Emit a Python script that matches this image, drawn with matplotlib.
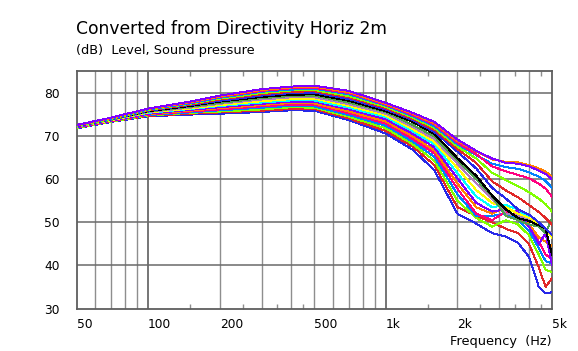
import matplotlib
matplotlib.use("Agg")
import matplotlib.pyplot as plt

# ---------------- data ----------------
freq = [50, 70, 100, 150, 200, 300, 400, 500, 700, 1000, 1300, 1600,
        2000, 2400, 2800, 3200, 3600, 4000, 4400, 4700, 5000]

c00 = [71.8, 73.3, 74.6, 75.0, 75.2, 75.6, 76.0, 75.9, 73.7, 70.6, 66.8, 62.1, 52.0, 49.7, 47.5, 46.7, 45.2, 42.0, 35.0, 33.5, 33.8]
c01 = [71.9, 73.4, 74.7, 75.2, 75.5, 75.9, 76.3, 76.3, 74.1, 71.2, 67.5, 63.3, 53.5, 51.5, 50.0, 48.5, 47.5, 45.0, 39.5, 35.0, 37.0]
c02 = [71.9, 73.4, 74.8, 75.4, 75.7, 76.2, 76.7, 76.6, 74.5, 71.8, 68.1, 64.3, 55.0, 51.0, 49.0, 50.5, 49.5, 47.0, 42.5, 39.0, 38.5]
c03 = [72.0, 73.5, 74.9, 75.5, 76.0, 76.6, 77.0, 76.9, 74.9, 72.4, 68.7, 65.2, 56.5, 51.5, 51.5, 52.0, 50.5, 48.0, 44.0, 41.0, 40.5]
c04 = [72.0, 73.5, 75.0, 75.7, 76.2, 76.9, 77.3, 77.3, 75.3, 72.9, 69.3, 66.0, 57.8, 52.0, 50.5, 52.5, 51.5, 49.0, 45.5, 42.5, 41.5]
c05 = [72.1, 73.6, 75.1, 75.9, 76.5, 77.2, 77.7, 77.6, 75.7, 73.4, 69.9, 66.7, 59.0, 53.5, 52.0, 53.5, 52.0, 49.5, 46.5, 45.5, 44.5]
c06 = [72.1, 73.6, 75.2, 76.1, 76.7, 77.5, 78.0, 78.0, 76.2, 73.9, 70.5, 67.4, 60.2, 54.5, 52.5, 53.0, 52.5, 49.0, 45.0, 47.5, 40.0]
c07 = [72.2, 73.7, 75.4, 76.3, 77.0, 77.8, 78.3, 78.3, 76.6, 74.4, 71.1, 68.1, 61.4, 56.0, 53.5, 54.0, 53.0, 51.0, 49.5, 48.0, 47.0]
c08 = [72.2, 73.7, 75.5, 76.4, 77.2, 78.1, 78.6, 78.7, 77.0, 74.8, 71.6, 68.7, 62.6, 57.5, 54.5, 53.5, 52.0, 51.0, 49.5, 48.5, 46.5]
c09 = [72.2, 73.8, 75.6, 76.6, 77.5, 78.5, 79.0, 79.0, 77.4, 75.2, 72.1, 69.3, 63.6, 59.0, 55.5, 52.0, 51.5, 50.5, 49.0, 48.0, 47.5]
c10 = [72.3, 73.8, 75.7, 76.8, 77.7, 78.8, 79.3, 79.4, 77.8, 75.6, 72.6, 69.9, 64.3, 60.0, 56.0, 51.5, 50.5, 49.5, 49.0, 47.5, 51.0]
c11 = [72.3, 73.9, 75.8, 77.0, 78.0, 79.1, 79.6, 79.7, 78.2, 75.8, 73.3, 70.5, 64.9, 60.8, 56.2, 53.0, 51.0, 50.3, 49.3, 48.6, 42.5]
c12 = [72.3, 73.9, 75.9, 77.2, 78.2, 79.4, 80.0, 80.1, 78.6, 76.2, 73.7, 71.0, 66.4, 62.5, 58.0, 55.5, 53.0, 51.8, 50.0, 48.5, 47.0]
c13 = [72.4, 74.0, 76.0, 77.3, 78.5, 79.7, 80.3, 80.4, 79.0, 76.5, 74.0, 71.5, 67.0, 63.8, 59.5, 57.4, 55.8, 54.0, 52.4, 51.0, 49.5]
c14 = [72.4, 74.0, 76.1, 77.5, 78.7, 80.0, 80.6, 80.7, 79.3, 76.8, 74.3, 71.9, 67.6, 64.8, 61.5, 59.8, 58.4, 57.0, 55.5, 54.2, 52.5]
c15 = [72.5, 74.1, 76.2, 77.6, 78.9, 80.3, 80.8, 81.0, 79.7, 77.1, 74.6, 72.3, 68.1, 65.6, 63.6, 62.8, 62.4, 61.6, 60.6, 59.6, 58.0]
c16 = [72.5, 74.2, 76.3, 77.8, 79.1, 80.5, 81.1, 81.2, 80.0, 77.3, 74.9, 72.7, 68.5, 65.8, 63.0, 61.8, 61.0, 60.2, 59.0, 57.8, 56.0]
c17 = [72.6, 74.2, 76.3, 77.9, 79.2, 80.7, 81.3, 81.5, 80.2, 77.5, 75.2, 73.0, 68.9, 66.5, 64.6, 64.0, 63.9, 63.3, 62.5, 61.8, 60.5]
c18 = [72.6, 74.3, 76.4, 78.0, 79.4, 80.9, 81.5, 81.7, 80.5, 77.7, 75.4, 73.3, 69.2, 66.6, 64.8, 63.8, 63.6, 63.0, 62.0, 61.2, 60.0]

series = [c00, c01, c02, c03, c04, c05, c06, c07, c08, c09,
          c10, c11, c12, c13, c14, c15, c16, c17, c18]

palette = ["#2828e8", "#e02828", "#80ff00", "#0080ff", "#ff0080", "#ff8000",
           "#8000ff", "#00ffff", "#ffff00", "#b07cc0", "#50a050", "#000000"]

xtick_vals = [50, 100, 200, 500, 1000, 2000, 5000]
xtick_labels = ["50", "100", "200", "500", "1k", "2k", "5k"]
ytick_vals = [30, 40, 50, 60, 70, 80]

grid_light = [60, 70, 80, 90, 200, 300, 400, 500, 600, 700, 800, 900,
              2000, 3000, 4000]
grid_dark = [100, 1000]
short_ticks = [150, 250, 350, 450, 1500, 2500, 3500, 4500]

# ---------------- figure ----------------
W, H = 578, 351
fig = plt.figure(figsize=(W / 100, H / 100), dpi=100)
L, R, T, B = 76.5, 552, 71.5, 308.5
ax = fig.add_axes([L / W, 1 - B / H, (R - L) / W, (B - T) / H])
ax.set_xscale("log")
ax.set_xlim(50, 5000)
ax.set_ylim(30, 85)

for g in grid_light:
    ax.axvline(g, color="#8e8e8e", lw=1.0, zorder=1)
for g in grid_dark:
    ax.axvline(g, color="#5e5e5e", lw=1.2, zorder=1)
for yv in ytick_vals[1:]:
    ax.axhline(yv, color="#6a6a6a", lw=1.1, zorder=1)

for i, s in enumerate(series):
    ax.plot(freq, s, color=palette[i % len(palette)], lw=0.7,
            antialiased=False, zorder=3)

for sp in ax.spines.values():
    sp.set_color("#5e5e5e")
    sp.set_linewidth(1.3)

ax.set_xticks(xtick_vals)
ax.set_xticklabels(xtick_labels)
ax.set_xticks(short_ticks, minor=True)
ax.xaxis.set_minor_formatter(plt.NullFormatter())
ax.set_yticks(ytick_vals)
ax.tick_params(axis="x", which="major", length=0, pad=7, labelsize=8.8)
ax.tick_params(axis="x", which="minor", length=3.5, direction="in",
               top=True, bottom=True, color="#8e8e8e", width=1.0)
ax.tick_params(axis="y", which="major", length=0, pad=12, labelsize=8.8)
for lab in ax.get_xticklabels():
    lab.set_horizontalalignment("left")

fig.text(L / W, 1 - 34.3 / H, "Converted from Directivity Horiz 2m",
         fontsize=12.3, ha="left", va="baseline")
fig.text(L / W, 1 - 54.3 / H, "(dB)  Level, Sound pressure",
         fontsize=9.3, ha="left", va="baseline")
fig.text(R / W, 1 - 345.5 / H, "Frequency  (Hz)",
         fontsize=9.3, ha="right", va="baseline")

fig.savefig("out.png", dpi=100)
